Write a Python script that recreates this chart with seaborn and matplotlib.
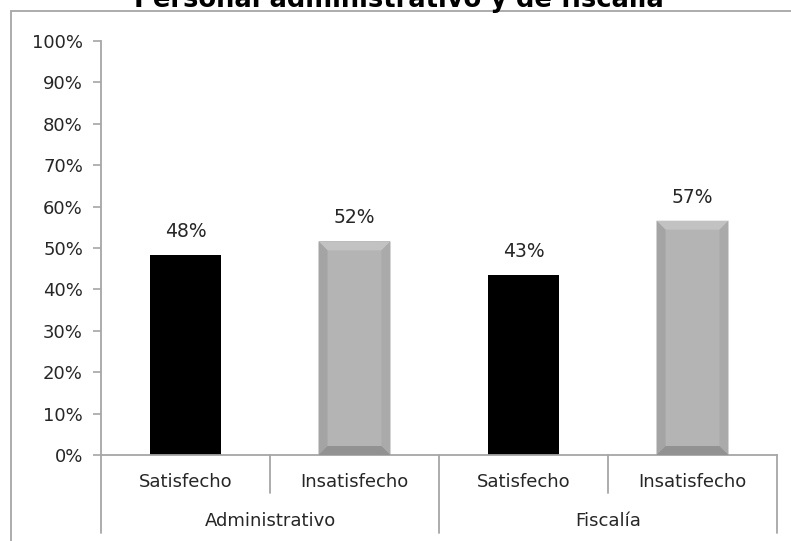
import numpy as np
import pandas as pd
import matplotlib
matplotlib.use("Agg")
import matplotlib.pyplot as plt
import seaborn as sns
from matplotlib.patches import Polygon, Rectangle
from matplotlib.lines import Line2D
import matplotlib.transforms as mtransforms

# ----------------------------
# data
# ----------------------------
groups = ["Administrativo", "Administrativo", "Fiscalía", "Fiscalía"]
answers = ["Satisfecho", "Insatisfecho", "Satisfecho", "Insatisfecho"]
values = [48.4, 51.6, 43.4, 56.6]
labels = ["48%", "52%", "43%", "57%"]
yticks = list(range(0, 101, 10))
title = "Personal administrativo y de fiscalía"

df = pd.DataFrame({"group": groups, "answer": answers, "value": values})
df["slot"] = df["group"] + "|" + df["answer"]

BLACK = "#000000"
GRAY = "#b4b4b4"
AXIS_C = "#a6a6a6"
TEXT_C = "#262626"

sns.set_theme(style="white")
plt.rcParams["font.family"] = ["DejaVu Sans"]

W, H = 791, 541
fig = plt.figure(figsize=(W / 100, H / 100), dpi=100)
fig.patch.set_facecolor("white")

# outer chart frame (cut off at right and bottom)
fig.add_artist(Rectangle((11 / W, -0.1), 1.2, 1 - 11 / H + 0.1, transform=fig.transFigure,
                         fill=False, edgecolor=AXIS_C, linewidth=1.3))

ax = fig.add_axes([101 / W, 1 - 455 / H, (777 - 101) / W, (455 - 41) / H])

pal = {s: (BLACK if a == "Satisfecho" else GRAY) for s, a in zip(df["slot"], df["answer"])}
sns.barplot(data=df, x="slot", y="value", hue="slot", palette=pal, order=list(df["slot"]),
            width=0.426, legend=False, ax=ax, saturation=1, edgecolor="none")

ax.set_xlim(-0.5, len(df) - 0.5)
ax.set_ylim(0, 100)
ax.set_yticks(yticks)
ax.set_yticklabels([f"{t}%" for t in yticks], fontsize=13, color=TEXT_C)
ax.set_xticks([])
ax.set_xlabel("")
ax.set_ylabel("")
ax.tick_params(axis="y", which="both", left=True, length=6, width=1.2, color=AXIS_C, pad=7)
for s in ["top", "right"]:
    ax.spines[s].set_visible(False)
for s in ["left", "bottom"]:
    ax.spines[s].set_color(AXIS_C)
    ax.spines[s].set_linewidth(1.3)

# bevel for the gray bars
bw_px = 9
for p, a in zip(ax.patches, df["answer"]):
    if a != "Insatisfecho":
        continue
    x0, w, h = p.get_x(), p.get_width(), p.get_height()
    dx = bw_px / 169.0
    dy = bw_px / 4.14
    x1 = x0 + w
    faces = [
        ([(x0, h), (x1, h), (x1 - dx, h - dy), (x0 + dx, h - dy)], "#c2c2c2"),
        ([(x0, 0), (x0, h), (x0 + dx, h - dy), (x0 + dx, dy)], "#a4a4a4"),
        ([(x1, 0), (x1, h), (x1 - dx, h - dy), (x1 - dx, dy)], "#aaaaaa"),
        ([(x0, 0), (x1, 0), (x1 - dx, dy), (x0 + dx, dy)], "#929292"),
    ]
    for pts, c in faces:
        ax.add_patch(Polygon(pts, closed=True, facecolor=c, edgecolor="none", zorder=3))

# value labels
for i, (v, lab) in enumerate(zip(values, labels)):
    ax.annotate(lab, (i, v), xytext=(0, 10), textcoords="offset points",
                ha="center", va="bottom", fontsize=13.5, color=TEXT_C)

# two-level category axis
trans = mtransforms.blended_transform_factory(ax.transData, fig.transFigure)
for i, a in enumerate(answers):
    ax.text(i, 1 - 482 / H, a, transform=trans, ha="center", va="center", fontsize=13, color=TEXT_C)
    if i > 0 and groups[i] == groups[i - 1]:
        fig.add_artist(Line2D([i - 0.5, i - 0.5], [1 - 455 / H, 1 - 493 / H], transform=trans,
                              color=AXIS_C, linewidth=1.3))

uniq = list(dict.fromkeys(groups))
for g in uniq:
    idx = [i for i, gg in enumerate(groups) if gg == g]
    ax.text(np.mean(idx), 1 - 521 / H, g, transform=trans, ha="center", va="center",
            fontsize=13, color=TEXT_C)
bounds = [-0.5] + [i + 0.5 for i in range(len(groups)) if i == len(groups) - 1 or groups[i] != groups[i + 1]]
for b in bounds:
    fig.add_artist(Line2D([b, b], [1 - 455 / H, 1 - 533 / H], transform=trans,
                          color=AXIS_C, linewidth=1.3))

fig.text(399 / W, 1 - 7 / H, title, ha="center", va="baseline", fontsize=18.5,
         fontweight="bold", color=BLACK)

fig.savefig("out.png", dpi=100, facecolor="white")
